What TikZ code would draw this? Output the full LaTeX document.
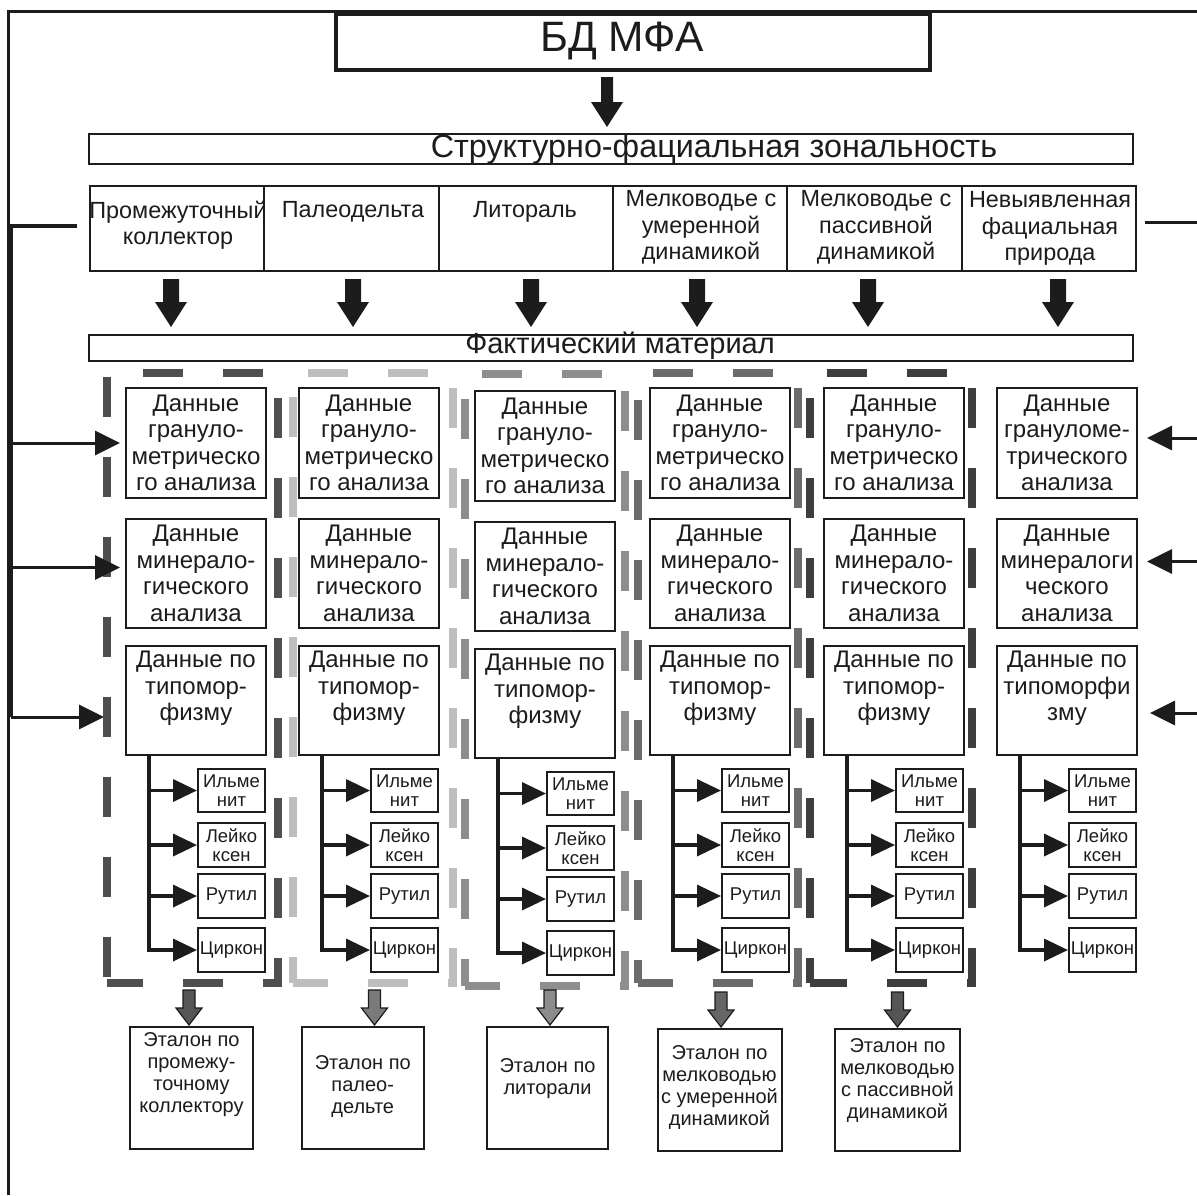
\documentclass[tikz,border=0pt]{standalone}
\usepackage{fontspec}
\setmainfont{Liberation Sans}
\usetikzlibrary{arrows.meta,calc}

\definecolor{ink}{HTML}{1C1C1C}
\definecolor{frA}{HTML}{4F4F4F}
\definecolor{frB}{HTML}{BEBEBE}
\definecolor{frC}{HTML}{8E8E8E}
\definecolor{frD}{HTML}{6B6B6B}
\definecolor{frE}{HTML}{3E3E3E}
\definecolor{arA}{HTML}{555555}
\definecolor{arB}{HTML}{7A7A7A}
\definecolor{arC}{HTML}{8C8C8C}
\definecolor{arD}{HTML}{666666}
\definecolor{arE}{HTML}{555555}

\tikzset{
  cell/.style={draw=ink, line width=2pt, fill=white, inner sep=0pt},
  txt/.style={text=ink, align=center, inner sep=0pt},
  bigtxt/.style={txt, font=\fontsize{42.5}{48}\selectfont},
  headtxt/.style={txt, font=\fontsize{32.3}{36}\selectfont},
  facttxt/.style={txt, font=\fontsize{29}{32}\selectfont},
  factxt/.style={txt, font=\fontsize{23.4}{26.5}\selectfont},
  datatxt/.style={txt, font=\fontsize{24}{26.5}\selectfont},
  mintxt/.style={txt, font=\fontsize{18.5}{19.5}\selectfont},
  reftxt/.style={txt, font=\fontsize{20}{22}\selectfont},
  colframe/.style={line width=8pt, dash pattern=on 40pt off 40pt},
  stem/.style={draw=ink, line width=3.5pt, -{Triangle[length=24pt,width=22pt]}},
  bracket/.style={draw=ink, line width=4pt},
  feed/.style={draw=ink, line width=3pt, -{Triangle[length=25pt,width=24pt]}},
  pics/blockarrow/.style n args={4}{code={%
    \path[pic actions] (-#1,0) -- (#1,0) -- (#1,#3) -- (#2,#3) -- (0,#4)
      -- (-#2,#3) -- (-#1,#3) -- cycle;}},
  greyarrow/.style={draw=ink, line width=1.2pt},
}

% one column of source data: three data boxes and the mineral tree
\newcommand\datacolumn[6]{%
  \node[cell, minimum width=140pt, minimum height=110pt, anchor=north west] (#1a) at (#2,{387+#3}) {};
  \node[datatxt] (#1at) at (#1a.center) {#4};
  \node[cell, minimum width=140pt, minimum height=109pt, anchor=north west] (#1b) at (#2,{518+#3}) {};
  \node[datatxt] (#1bt) at (#1b.center) {#5};
  \node[cell, minimum width=140pt, minimum height=109pt, anchor=north west] (#1c) at (#2,{645+#3}) {};
  \node[datatxt, anchor=north] (#1ct) at ([yshift=-6pt]#1c.north) {#6};
  \node[cell, mintxt, minimum width=67pt, minimum height=43pt, anchor=north west] (#1i) at ({#2+72},{768+#3}) {Ильме\\нит};
  \node[cell, mintxt, minimum width=67pt, minimum height=44pt, anchor=north west] (#1l) at ({#2+72},{822+#3}) {Лейко\\ксен};
  \node[cell, mintxt, minimum width=67pt, minimum height=44pt, anchor=north west] (#1r) at ({#2+72},{873+#3}) {Рутил};
  \node[cell, mintxt, minimum width=67pt, minimum height=44pt, anchor=north west] (#1z) at ({#2+72},{927+#3}) {Циркон};
  \coordinate (#1k) at ([xshift=24pt]#1c.south west);
  \draw[stem] (#1k) |- (#1z.west);
  \draw[stem] (#1k |- #1i.west) -- (#1i.west);
  \draw[stem] (#1k |- #1l.west) -- (#1l.west);
  \draw[stem] (#1k |- #1r.west) -- (#1r.west);
}

% dashed frame round a column: top, right and bottom in one stroke, left side on its own
\newcommand\colbox[8]{% #1 colour, #2 left, #3 top, #4 right, #5 bottom, #6 phase, #7 left phase, #8 name
  \coordinate (#8) at (#2,#3);
  \draw[colframe, #1, dash phase=#6pt] (#8) -- (#4,#3) -- (#4,#5) -- (#2,#5);
  \draw[colframe, #1, dash phase=#7pt] (#8) -- (#2,#5);
}

\begin{document}
\begin{tikzpicture}[x=1pt, y=-1pt]
\useasboundingbox (0,0) rectangle (1197,1195);

% sheet frame
\draw[ink, line width=3pt] (8,1195) -- (8,11) -- (1197,11);

% database
\node[cell, line width=3.5pt, minimum width=594pt, minimum height=56pt] (db) at (633,42) {};
\node[bigtxt] (dbt) at (622,41) {БД МФА};
\pic[fill=ink] at (607,77) {blockarrow={6}{16}{25}{50}};

% structural-facies zoning
\node[cell, minimum width=1044pt, minimum height=30pt] (sz) at (611,149) {};
\node[headtxt] (szt) at (714,149) {Структурно-фациальная зональность};

% facies row
\node[cell, minimum width=174.33pt, minimum height=85pt, anchor=north west] (f1) at (89,185) {};
\node[cell, minimum width=174.33pt, minimum height=85pt, anchor=north west] (f2) at (263.33,185) {};
\node[cell, minimum width=174.33pt, minimum height=85pt, anchor=north west] (f3) at (437.67,185) {};
\node[cell, minimum width=174.33pt, minimum height=85pt, anchor=north west] (f4) at (612,185) {};
\node[cell, minimum width=174.33pt, minimum height=85pt, anchor=north west] (f5) at (786.33,185) {};
\node[cell, minimum width=174.33pt, minimum height=85pt, anchor=north west] (f6) at (960.67,185) {};
\node[factxt] (f1t) at (178,225) {Промежуточный\\коллектор};
\node[factxt] (f2t) at (353,212) {Палеодельта};
\node[factxt] (f3t) at (525,212) {Литораль};
\node[factxt] (f4t) at (701,227.5) {Мелководье с\\умеренной\\динамикой};
\node[factxt] (f5t) at (876,227.5) {Мелководье с\\пассивной\\динамикой};
\node[factxt] (f6t) at (1050,228.5) {Невыявленная\\фациальная\\природа};

\pic[fill=ink] at (171,279) {blockarrow={8}{16}{23}{48}};
\pic[fill=ink] at (353,279) {blockarrow={8}{16}{23}{48}};
\pic[fill=ink] at (531,279) {blockarrow={8}{16}{23}{48}};
\pic[fill=ink] at (697,279) {blockarrow={8}{16}{23}{48}};
\pic[fill=ink] at (868,279) {blockarrow={8}{16}{23}{48}};
\pic[fill=ink] at (1058,279) {blockarrow={8}{16}{23}{48}};

% factual material
\node[cell, minimum width=1044pt, minimum height=26pt] (ft) at (611,348) {};
\node[facttxt] (ftt) at (620,346) {Фактический материал};

% dashed column frames
\colbox{frA}{107}{373}{278}{983}{44}{76}{fr1}
\colbox{frB}{293}{373}{453}{983}{65}{56}{fr2}
\colbox{frC}{465}{374}{625}{986}{63}{55}{fr3}
\colbox{frD}{638}{373}{798}{983}{65}{53}{fr4}
\colbox{frE}{810}{373}{972}{983}{63}{55}{fr5}

% data columns
\datacolumn{c1}{125}{0}{Данные\\грануло-\\метрическо\\го анализа}{Данные\\минерало-\\гического\\анализа}{Данные по\\типомор-\\физму}
\datacolumn{c2}{298}{0}{Данные\\грануло-\\метрическо\\го анализа}{Данные\\минерало-\\гического\\анализа}{Данные по\\типомор-\\физму}
\datacolumn{c3}{474}{3}{Данные\\грануло-\\метрическо\\го анализа}{Данные\\минерало-\\гического\\анализа}{Данные по\\типомор-\\физму}
\datacolumn{c4}{649}{0}{Данные\\грануло-\\метрическо\\го анализа}{Данные\\минерало-\\гического\\анализа}{Данные по\\типомор-\\физму}
\datacolumn{c5}{823}{0}{Данные\\грануло-\\метрическо\\го анализа}{Данные\\минерало-\\гического\\анализа}{Данные по\\типомор-\\физму}
\datacolumn{c6}{996}{0}{Данные\\грануломе-\\трического\\анализа}{Данные\\минералоги\\ческого\\анализа}{Данные по\\типоморфи\\зму}

% left feed line
\coordinate (bk0) at (77,226);
\coordinate (bk1) at (11,226);
\coordinate (bk2) at (11,717);
\draw[bracket] (bk0) -- (bk1) -- (bk2);
\draw[feed] (bk1 |- c1a.west) -- ([xshift=-5pt]c1a.west);
\draw[feed] ($(bk1 |- c1b.west)+(0,-6)$) -- ($(c1b.west)+(-5,-6)$);
\draw[feed] (bk2) -- ($(bk2 -| fr1)+(-3,0)$);

% right feed line
\coordinate (rb0) at (1145,222);
\coordinate (rb1) at (1197,222);
\draw[bracket, line width=3pt] (rb0) -- (rb1);
\draw[feed] ($(c6a.east)+(61,-5)$) -- ($(c6a.east)+(9,-5)$);
\draw[feed] ($(c6b.east)+(61,-12)$) -- ($(c6b.east)+(9,-12)$);
\draw[feed] ($(c6c.east)+(61,12.5)$) -- ($(c6c.east)+(12,12.5)$);

% reference standards
\node[cell, minimum width=123pt, minimum height=122pt] (e1) at (191.5,1088) {};
\node[reftxt] (e1t) at (191.5,1075) {Эталон по\\промежу-\\точному\\коллектору};
\node[cell, minimum width=122.5pt, minimum height=122pt] (e2) at (362.75,1088) {};
\node[reftxt] (e2t) at (362.75,1086) {Эталон по\\палео-\\дельте};
\node[cell, minimum width=121pt, minimum height=122pt] (e3) at (547.5,1088) {};
\node[reftxt] (e3t) at (547.5,1079) {Эталон по\\литорали};
\node[cell, minimum width=124pt, minimum height=122pt] (e4) at (719.5,1090) {};
\node[reftxt] (e4t) at (719.5,1087) {Эталон по\\мелководью\\с умеренной\\динамикой};
\node[cell, minimum width=125pt, minimum height=122pt] (e5) at (897.5,1090) {};
\node[reftxt] (e5t) at (897.5,1080) {Эталон по\\мелководью\\с пассивной\\динамикой};

\pic[greyarrow, fill=arA] at ($(e1.north)+(-2.5,-36)$) {blockarrow={6}{13}{18}{35}};
\pic[greyarrow, fill=arB] at ($(e2.north)+(11.75,-36)$) {blockarrow={6}{13}{18}{35}};
\pic[greyarrow, fill=arC] at ($(e3.north)+(2.5,-36)$) {blockarrow={6}{13}{18}{35}};
\pic[greyarrow, fill=arD] at ($(e4.north)+(1.5,-36)$) {blockarrow={6}{13}{18}{35}};
\pic[greyarrow, fill=arE] at ($(e5.north)+(0,-36)$) {blockarrow={6}{13}{18}{35}};
\end{tikzpicture}
\end{document}
